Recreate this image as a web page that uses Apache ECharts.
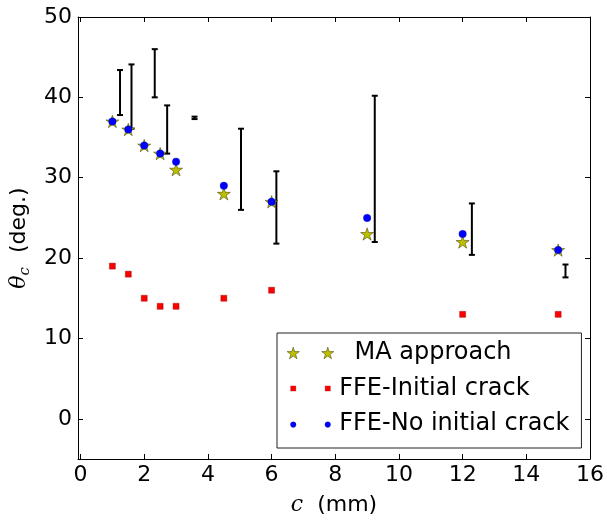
<!DOCTYPE html>
<html><head><meta charset="utf-8">
<script src="https://cdn.jsdelivr.net/npm/echarts@6/dist/echarts.min.js"></script>
<style>html,body{margin:0;padding:0;background:#fff}#c{width:607px;height:521px}</style>
</head><body><div id="c"></div>
<script>
// ---- data ----
const cValues    = [1, 1.5, 2, 2.5, 3, 4.5, 6, 9, 12, 15];
const maApproach = [37, 36, 34, 33, 31, 28, 27, 23, 22, 21];
const ffeNoCrack = [37, 36, 34, 33, 32, 29, 27, 25, 23, 21];
const ffeInitX   = [1, 1.5, 2, 2.5, 3, 4.5, 6, 12, 15];
const ffeInitial = [19, 18, 15, 14, 14, 15, 16, 13, 13];
const errX    = [1.24, 1.6, 2.33, 2.72, 3.58, 5.04, 6.15, 9.24, 12.29, 15.23];
const errLow  = [37.8, 36.1, 40.0, 33.0, 37.3, 26.0, 21.8, 22.0, 20.4, 17.6];
const errHigh = [43.4, 44.1, 46.0, 39.0, 37.6, 36.1, 30.8, 40.2, 26.8, 19.2];
const xTicks = [0, 2, 4, 6, 8, 10, 12, 14, 16];
const yTicks = [0, 10, 20, 30, 40, 50];
const seriesNames = ['MA approach', 'FFE-Initial crack', 'FFE-No initial crack'];

// ---- helpers ----
function star(cx, cy, R) {
  let s = '';
  for (let k = 0; k < 10; k++) {
    const r = k % 2 ? R * 0.382 : R;
    const a = -Math.PI / 2 + k * Math.PI / 5;
    s += (k ? 'L' : 'M') + (cx + r * Math.cos(a)).toFixed(2) + ' ' + (cy + r * Math.sin(a)).toFixed(2) + ' ';
  }
  return s + 'Z ';
}
function sq(cx, cy, h) { return `M${cx-h} ${cy-h} L${cx+h} ${cy-h} L${cx+h} ${cy+h} L${cx-h} ${cy+h} Z `; }
function circ(cx, cy, r) { return `M${cx-r} ${cy} A${r} ${r} 0 1 0 ${cx+r} ${cy} A${r} ${r} 0 1 0 ${cx-r} ${cy} Z `; }
const LW = 48, LH = 14;
const anchor = `M0 0 M${LW} ${LH} `;
const starIcon = 'path://' + anchor + star(7, 7.6, 6.4) + star(41.5, 7.6, 6.4);
const sqIcon = 'path://' + anchor + sq(7, 7, 2.6) + sq(41.5, 7, 2.6);
const circIcon = 'path://' + anchor + circ(7, 7.6, 2.8) + circ(41.5, 7.6, 2.8);

const FONT = 'DejaVu Sans';
const zip = (a, b) => a.map((v, i) => [v, b[i]]);

const axisCommon = {
  axisLine: { show: true, onZero: false, lineStyle: { color: '#000', width: 1 } },
  axisTick: { show: true, inside: true, length: 5, lineStyle: { color: '#000', width: 1 } },
  splitLine: { show: false }
};

const chart = echarts.init(document.getElementById('c'), null, { renderer: 'canvas' });
chart.setOption({
  animation: false,
  backgroundColor: '#fff',
  grid: { left: 78, right: 14, top: 17, bottom: 61, containLabel: false },
  xAxis: [
    Object.assign({}, axisCommon, {
      type: 'value', min: -0.08, max: 16, position: 'bottom',
      axisTick: Object.assign({}, axisCommon.axisTick, { customValues: xTicks }),
      axisLabel: { customValues: xTicks, fontFamily: FONT, fontSize: 22, color: '#000', margin: 5 },
      name: '{i|c}  (mm)', nameLocation: 'middle', nameGap: 35,
      nameTextStyle: { fontFamily: FONT, fontSize: 22, color: '#000',
        rich: { i: { fontFamily: 'DejaVu Serif', fontStyle: 'italic', fontSize: 22, color: '#000' } } }
    }),
    Object.assign({}, axisCommon, {
      type: 'value', min: -0.08, max: 16, position: 'top',
      axisTick: Object.assign({}, axisCommon.axisTick, { customValues: xTicks }),
      axisLabel: { show: false }
    })
  ],
  yAxis: [
    Object.assign({}, axisCommon, {
      type: 'value', min: -5, max: 50, position: 'left',
      axisTick: Object.assign({}, axisCommon.axisTick, { customValues: yTicks }),
      axisLabel: { customValues: yTicks, fontFamily: FONT, fontSize: 22, color: '#000', margin: 6 },
      name: '{i|θ}{s|c}  (deg.)', nameLocation: 'middle', nameRotate: 90, nameGap: 37,
      nameTextStyle: { fontFamily: FONT, fontSize: 22, color: '#000',
        rich: {
          i: { fontFamily: 'DejaVu Serif', fontStyle: 'italic', fontSize: 22, color: '#000' },
          s: { fontFamily: 'DejaVu Serif', fontStyle: 'italic', fontSize: 15, color: '#000', padding: [12, 0, 0, 0] }
        } }
    }),
    Object.assign({}, axisCommon, {
      type: 'value', min: -5, max: 50, position: 'right',
      axisTick: Object.assign({}, axisCommon.axisTick, { customValues: yTicks }),
      axisLabel: { show: false }
    })
  ],
  legend: {
    orient: 'vertical', left: 277, top: 333,
    padding: [8, 12, 12, 9], itemGap: 11.5,
    itemWidth: LW, itemHeight: LH,
    backgroundColor: '#fff', borderColor: '#222', borderWidth: 1, borderRadius: 0,
    textStyle: { fontFamily: FONT, fontSize: 24, lineHeight: 24, color: '#000' },
    formatter: n => n === seriesNames[0] ? '  ' + n : n,
    selectedMode: false,
    data: [
      { name: seriesNames[0], icon: starIcon, itemStyle: { color: '#bfbf00', borderColor: '#333300', borderWidth: 0.5 } },
      { name: seriesNames[1], icon: sqIcon, itemStyle: { color: '#ff0000', borderColor: '#800', borderWidth: 0.3 } },
      { name: seriesNames[2], icon: circIcon, itemStyle: { color: '#0000ff', borderColor: '#000080', borderWidth: 0.3 } }
    ]
  },
  series: [
    {
      name: 'errorbars', type: 'custom', silent: true,
      data: errX.map((x, i) => [x, errLow[i], errHigh[i]]),
      renderItem: function (params, api) {
        const x = api.value(0);
        const lo = api.coord([x, api.value(1)]);
        const hi = api.coord([x, api.value(2)]);
        const cw = 3, st = { stroke: '#000', lineWidth: 2 };
        return { type: 'group', children: [
          { type: 'line', shape: { x1: lo[0], y1: lo[1], x2: hi[0], y2: hi[1] }, style: st },
          { type: 'line', shape: { x1: lo[0] - cw, y1: lo[1], x2: lo[0] + cw, y2: lo[1] }, style: st },
          { type: 'line', shape: { x1: hi[0] - cw, y1: hi[1], x2: hi[0] + cw, y2: hi[1] }, style: st }
        ] };
      }
    },
    {
      name: seriesNames[1], type: 'scatter', data: zip(ffeInitX, ffeInitial),
      symbol: 'rect', symbolSize: 6,
      itemStyle: { color: '#ff0000', borderColor: '#800', borderWidth: 0.4, opacity: 1 },
      emphasis: { disabled: true }
    },
    {
      name: seriesNames[0], type: 'scatter', data: zip(cValues, maApproach),
      symbol: 'path://' + star(0, 0, 10), symbolSize: 13, symbolKeepAspect: true,
      itemStyle: { color: '#bfbf00', borderColor: '#333300', borderWidth: 0.5, opacity: 1 },
      emphasis: { disabled: true }
    },
    {
      name: seriesNames[2], type: 'scatter', data: zip(cValues, ffeNoCrack),
      symbol: 'circle', symbolSize: 7.5,
      itemStyle: { color: '#0000ff', borderColor: '#000080', borderWidth: 0.3, opacity: 1 },
      emphasis: { disabled: true }
    }
  ]
});
</script></body></html>
